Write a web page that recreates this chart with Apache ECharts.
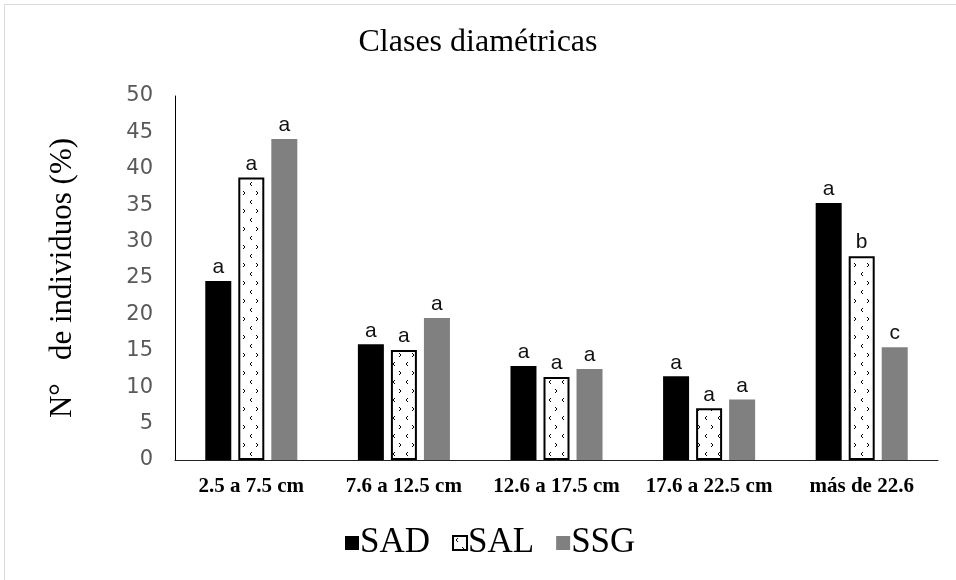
<!DOCTYPE html>
<html>
<head>
<meta charset="utf-8">
<script src="https://cdn.jsdelivr.net/npm/echarts@6.0.0/dist/echarts.min.js"></script>
<style>
html,body{margin:0;padding:0;background:#fff;}
#chart{width:956px;height:580px;}
</style>
</head>
<body>
<div id="chart"></div>
<script>
const categories = ['2.5 a 7.5 cm', '7.6 a 12.5 cm', '12.6 a 17.5 cm', '17.6 a 22.5 cm', 'más de 22.6'];
const sadValues = [24.6, 15.9, 12.9, 11.5, 35.3];
const salValues = [38.8, 15.1, 11.4, 7.1, 28.0];
const ssgValues = [44.1, 19.5, 12.5, 8.3, 15.5];
const sadLetters = ['a', 'a', 'a', 'a', 'a'];
const salLetters = ['a', 'a', 'a', 'a', 'b'];
const ssgLetters = ['a', 'a', 'a', 'a', 'c'];
const yTicks = [0, 5, 10, 15, 20, 25, 30, 35, 40, 45, 50];

// pattern for SAL bars
const pc = document.createElement('canvas');
pc.width = 13; pc.height = 18;
const g = pc.getContext('2d');
g.fillStyle = '#fff'; g.fillRect(0, 0, 13, 18);
g.strokeStyle = '#000'; g.lineWidth = 1;
g.beginPath();
g.moveTo(5, 2); g.lineTo(3, 4); g.lineTo(5, 6);
g.moveTo(9, 11); g.lineTo(11, 13); g.lineTo(9, 15);
g.stroke();

const chart = echarts.init(document.getElementById('chart'), null, {renderer: 'canvas'});

function labelFor(letters) {
  return {
    show: true, position: 'top', distance: 3,
    fontFamily: 'Liberation Sans, Arial, sans-serif', fontSize: 21, color: '#111',
    formatter: p => letters[p.dataIndex]
  };
}

chart.setOption({
  animation: false,
  backgroundColor: '#fff',
  graphic: [{
    type: 'rect', shape: {x: 4.5, y: 4.5, width: 1000, height: 1000},
    style: {fill: 'none', stroke: '#d9d9d9', lineWidth: 1}, silent: true
  }],
  title: {
    text: 'Clases diamétricas', left: 'center', top: 22,
    textStyle: {fontFamily: 'Liberation Serif, serif', fontSize: 32, fontWeight: 'normal', color: '#000'}
  },
  legend: {
    top: 520, left: 340, icon: 'rect', itemWidth: 14, itemHeight: 14, itemGap: 22,
    textStyle: {fontFamily: 'Liberation Serif, serif', fontSize: 35, lineHeight: 36, color: '#000', padding: [0, 0, 0, -4]},
    data: ['SAD', 'SAL', 'SSG']
  },
  grid: {left: 175, right: 18, top: 96, bottom: 120, containLabel: false},
  xAxis: {
    type: 'category', data: categories,
    axisLine: {lineStyle: {color: '#222', width: 1}},
    axisTick: {show: false},
    axisLabel: {
      margin: 16, interval: 0,
      fontFamily: 'Liberation Serif, serif', fontWeight: 'bold', fontSize: 21, color: '#000'
    }
  },
  yAxis: {
    type: 'value', min: yTicks[0], max: yTicks[yTicks.length - 1], interval: 5,
    name: 'N°   de individuos (%)', nameLocation: 'middle', nameGap: 97, nameRotate: 90,
    nameTextStyle: {fontFamily: 'Liberation Serif, serif', fontSize: 31, color: '#000'},
    axisLine: {show: true, lineStyle: {color: '#000', width: 1}},
    axisTick: {show: false},
    splitLine: {show: false},
    axisLabel: {margin: 22, fontFamily: 'DejaVu Sans, sans-serif', fontSize: 21, color: '#595959'}
  },
  series: [
    {
      name: 'SAD', type: 'bar', data: sadValues,
      barWidth: 26, barGap: '27%',
      itemStyle: {color: '#000'},
      label: labelFor(sadLetters)
    },
    {
      name: 'SAL', type: 'bar', data: salValues,
      barWidth: 26, barGap: '27%',
      itemStyle: {color: {image: pc, repeat: 'repeat'}, borderColor: '#000', borderWidth: 2},
      label: labelFor(salLetters)
    },
    {
      name: 'SSG', type: 'bar', data: ssgValues,
      barWidth: 26, barGap: '27%',
      itemStyle: {color: '#808080'},
      label: labelFor(ssgLetters)
    }
  ]
});
</script>
</body>
</html>
